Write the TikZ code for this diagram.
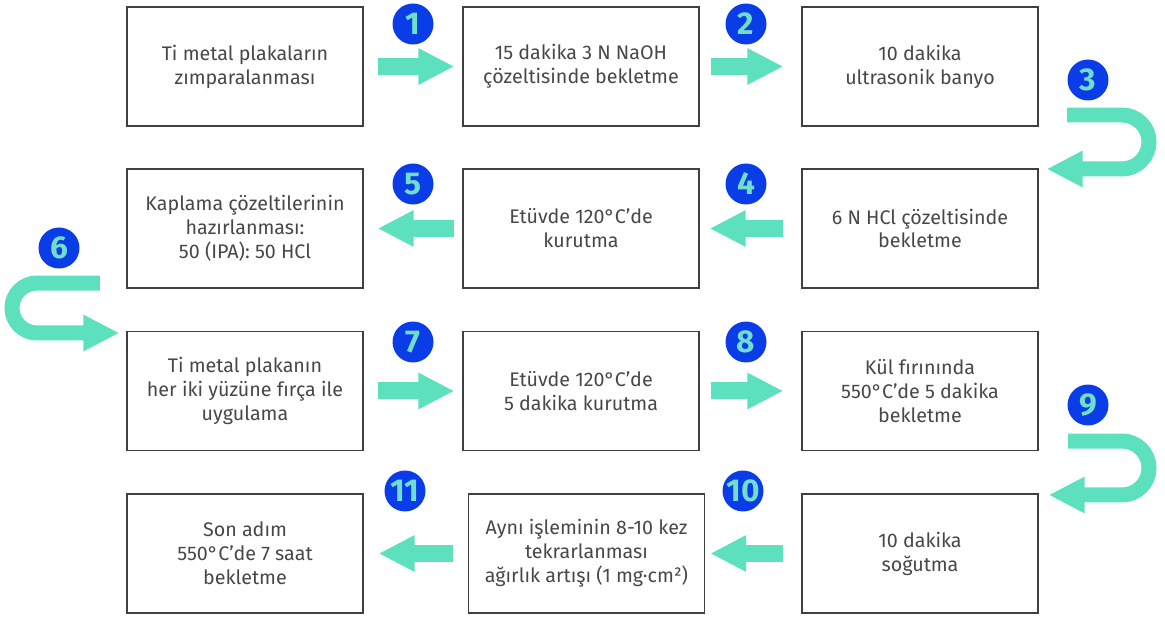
\documentclass[tikz,border=0pt]{standalone}
\usepackage{fontspec}
\setmainfont{Fira Sans}
\usepackage{tikz}
\usetikzlibrary{arrows.meta}
\definecolor{mint}{RGB}{92,224,190}
\definecolor{stepblue}{RGB}{10,60,232}
\definecolor{numteal}{RGB}{112,222,204}
\tikzset{
    stepbox/.style={draw=black!75, line width=0.8pt, minimum width=4.72cm, minimum height=2.38cm,
        inner sep=2pt, align=center, text=black!72, font=\fontsize{11.2}{13.6}\selectfont},
    stepnum/.style={circle, fill=stepblue, text=numteal, minimum size=0.82cm, inner sep=0pt,
        font=\fontsize{18}{18}\selectfont\bfseries},
    bigarrow/.style={mint, line width=0.34cm, -{Triangle[length=0.72cm,width=0.68cm]}},
    uturn/.style={mint, line width=0.3cm, -{Triangle[length=0.72cm,width=0.68cm]}}
}
\begin{document}
\begin{tikzpicture}[x=0.02cm, y=-0.02cm]
        \useasboundingbox (0,0) rectangle (1165,617);
        % boxes
        \node (s1) at (245,66.5) [stepbox] {Ti metal plakaların\\zımparalanması};
        \node (s2) at (581,66.5) [stepbox] {15 dakika 3 N NaOH\\çözeltisinde bekletme};
        \node (s3) at (920,66.5) [stepbox] {10 dakika\\ultrasonik banyo};
        \node (s4) at (920,228.5) [stepbox] {6 N HCl çözeltisinde\\bekletme};
        \node (s5) at (581,228.5) [stepbox] {Etüvde 120°C'de\\kurutma};
        \node (s6) at (245,228.5) [stepbox] {Kaplama çözeltilerinin\\hazırlanması:\\50 (IPA): 50 HCl};
        \node (s7) at (245,391) [stepbox] {Ti metal plakanın\\her iki yüzüne fırça ile\\uygulama};
        \node (s8) at (581,391) [stepbox] {Etüvde 120°C'de\\5 dakika kurutma};
        \node (s9) at (920,391) [stepbox] {Kül fırınında\\550°C'de 5 dakika\\bekletme};
        \node (s10) at (920,553.5) [stepbox] {10 dakika\\soğutma};
        \node (s11) at (586.5,553.5) [stepbox] {Aynı işleminin 8-10 kez\\tekrarlanması\\ağırlık artışı (1 mg·cm²)};
        \node (s12) at (245,553.5) [stepbox] {Son adım\\550°C'de 7 saat\\bekletme};
        % straight arrows
        \draw [bigarrow, shorten <=0.28cm, shorten >=0.16cm] (s1) -- (s2);
        \draw [bigarrow, shorten <=0.22cm, shorten >=0.36cm] (s2) -- (s3);
        \draw [bigarrow, shorten <=0.36cm, shorten >=0.2cm] (s4) -- (s5);
        \draw [bigarrow, shorten <=0.16cm, shorten >=0.28cm] (s5) -- (s6);
        \draw [bigarrow, shorten <=0.28cm, shorten >=0.16cm] (s7) -- (s8);
        \draw [bigarrow, shorten <=0.22cm, shorten >=0.36cm] (s8) -- (s9);
        \draw [bigarrow, shorten <=0.36cm, shorten >=0.1cm] (s10) -- (s11);
        \draw [bigarrow, shorten <=0.3cm, shorten >=0.3cm] (s11) -- (s12);
        % u-turns
        \coordinate (u3) at (1122,142);
        \coordinate (u6) at (37,308);
        \coordinate (u9) at (1122,468);
        \draw [uturn] ([xshift=-1.1cm, yshift=0.54cm]u3) -- ([yshift=0.54cm]u3)
            arc [start angle=90, end angle=-90, radius=0.54cm] -- ([xshift=0.16cm]s4.east |- 0,169);
        \draw [uturn] ([xshift=1.26cm, yshift=0.5cm]u6) -- ([yshift=0.5cm]u6)
            arc [start angle=90, end angle=270, radius=0.5cm] -- ([xshift=-0.14cm]s7.west |- 0,333);
        \draw [uturn] ([xshift=-1.08cm, yshift=0.54cm]u9) -- ([yshift=0.54cm]u9)
            arc [start angle=90, end angle=-90, radius=0.54cm] -- ([xshift=0.2cm]s10.east |- 0,495);
        % step numbers
        \node (n1) at (413,24) [stepnum] {1};
        \node (n2) at (746,24) [stepnum] {2};
        \node (n3) at (1088,80) [stepnum] {3};
        \node (n4) at (746,184) [stepnum] {4};
        \node (n5) at (413,184) [stepnum] {5};
        \node (n6) at (59,248) [stepnum] {6};
        \node (n7) at (413,342) [stepnum] {7};
        \node (n8) at (746,342) [stepnum] {8};
        \node (n9) at (1088,405) [stepnum] {9};
        \node (n10) at (743,491) [stepnum] {10};
        \node (n11) at (405,491) [stepnum] {11};
    \end{tikzpicture}
\end{document}
